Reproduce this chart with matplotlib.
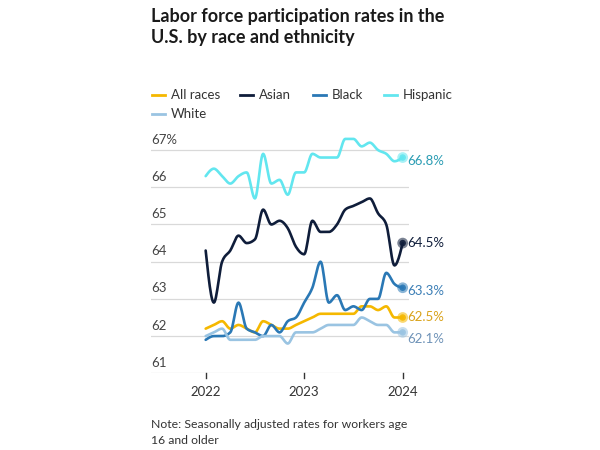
import numpy as np
import matplotlib.pyplot as plt
from matplotlib.transforms import blended_transform_factory

plt.rcParams['font.family'] = ['Lato', 'DejaVu Sans']

# monthly values, Jan 2022 .. Jan 2024
all_races = [62.2, 62.3, 62.4, 62.2, 62.3, 62.2, 62.1, 62.4, 62.3, 62.2, 62.2, 62.3,
             62.4, 62.5, 62.6, 62.6, 62.6, 62.6, 62.6, 62.8, 62.8, 62.7, 62.8, 62.5, 62.5]
asian = [64.3, 62.9, 64.0, 64.3, 64.7, 64.5, 64.6, 65.4, 65.0, 65.1, 64.9, 64.4,
         64.2, 65.1, 64.8, 64.8, 65.0, 65.4, 65.5, 65.6, 65.7, 65.3, 65.0, 63.9, 64.5]
black = [61.9, 62.0, 62.0, 62.1, 62.9, 62.2, 62.1, 62.0, 62.3, 62.1, 62.4, 62.5,
         62.9, 63.3, 64.0, 62.9, 63.1, 62.7, 62.8, 62.7, 63.0, 63.0, 63.7, 63.4, 63.3]
hispanic = [66.3, 66.5, 66.3, 66.1, 66.3, 66.4, 65.7, 66.9, 66.1, 66.2, 65.8, 66.4,
            66.4, 66.9, 66.8, 66.8, 66.8, 67.3, 67.3, 67.1, 67.2, 67.0, 66.9, 66.7, 66.8]
white = [62.0, 62.1, 62.2, 61.9, 61.9, 61.9, 61.9, 62.0, 62.0, 62.0, 61.8, 62.1,
         62.1, 62.1, 62.2, 62.3, 62.3, 62.3, 62.3, 62.5, 62.4, 62.3, 62.3, 62.1, 62.1]

series_names = ['All races', 'Asian', 'Black', 'Hispanic', 'White']
series = [all_races, asian, black, hispanic, white]
line_colors = ['#f5b800', '#0f1d3a', '#2a78b5', '#62e6ef', '#9ac4e2']
label_colors = ['#d9a21a', '#0f1d3a', '#3c7fb6', '#2a9cb3', '#6f93b8']
label_offsets = [0, 0, -0.1, -0.1, -0.18]

year_ticks = [0, 12, 24]
year_labels = ['2022', '2023', '2024']
y_ticks = [61, 62, 63, 64, 65, 66, 67]


def monotone(x, y, n=12):
    # monotone cubic (d3 curveMonotoneX style) for drawing
    x = np.asarray(x, float)
    y = np.asarray(y, float)
    h = np.diff(x)
    s = np.diff(y) / h
    m = np.zeros_like(y)
    for i in range(1, len(y) - 1):
        p = (s[i - 1] * h[i] + s[i] * h[i - 1]) / (h[i - 1] + h[i])
        m[i] = (np.sign(s[i - 1]) + np.sign(s[i])) * min(abs(s[i - 1]), abs(s[i]), 0.5 * abs(p))
    m[0] = (3 * s[0] - m[1]) / 2
    m[-1] = (3 * s[-1] - m[-2]) / 2
    xs, ys = [], []
    for i in range(len(h)):
        t = np.linspace(0, 1, n, endpoint=False)
        h00 = 2 * t**3 - 3 * t**2 + 1
        h10 = t**3 - 2 * t**2 + t
        h01 = -2 * t**3 + 3 * t**2
        h11 = t**3 - t**2
        xs.append(x[i] + t * h[i])
        ys.append(h00 * y[i] + h10 * h[i] * m[i] + h01 * y[i + 1] + h11 * h[i] * m[i + 1])
    xs.append([x[-1]])
    ys.append([y[-1]])
    return np.concatenate(xs), np.concatenate(ys)


fig = plt.figure(figsize=(6, 4.5), dpi=100)
ax = fig.add_axes([151 / 600, (450 - 373.3) / 450, 258 / 600, 238.1 / 450])
ax.set_xlim(-6.66, 24.77)
ax.set_ylim(61, 67.4)
ax.axis('off')

for v in y_ticks:
    ax.axhline(v, color='#d9d9d9', lw=0.9, zorder=0)

trans = blended_transform_factory(ax.transAxes, ax.transData)
for v in y_ticks:
    lab = '%d%%' % v if v == 67 else str(v)
    ax.text(0, v + 0.12, lab, transform=trans, ha='left', va='bottom',
            fontsize=9.5, color='#444444')

for t, lab in zip(year_ticks, year_labels):
    ax.plot([t, t], [61, 60.88], color='#333333', lw=1, clip_on=False)
    ax.text(t, 60.65, lab, ha='center', va='top', fontsize=9.5, color='#333333')

months = np.arange(len(all_races))
order = [4, 0, 2, 3, 1]
for i in order:
    xs, ys = monotone(months, series[i])
    ax.plot(xs, ys, color=line_colors[i], lw=1.9, solid_capstyle='round', zorder=3 + i)
    ax.scatter([months[-1]], [series[i][-1]], s=60, color=line_colors[i], alpha=0.55,
               zorder=10, edgecolors='none')
    ax.scatter([months[-1]], [series[i][-1]], s=22, color=line_colors[i], alpha=0.9,
               zorder=11, edgecolors='none')
    ax.text(months[-1] + 0.5, series[i][-1] + label_offsets[i], '%.1f%%' % series[i][-1],
            ha='left', va='center', fontsize=9.5, color=label_colors[i], clip_on=False)

fig.text(151 / 600, 1 - 22 / 450, 'Labor force participation rates in the',
         fontsize=13, fontweight='bold', color='#1a1a1a', ha='left', va='baseline')
fig.text(151 / 600, 1 - 43 / 450, 'U.S. by race and ethnicity',
         fontsize=13, fontweight='bold', color='#1a1a1a', ha='left', va='baseline')

# legend
legend_pos = [(152, 95), (240, 95), (313, 95), (384, 95), (152, 114)]
for (lx, ly), name, c in zip(legend_pos, series_names, line_colors):
    fig.add_artist(plt.Line2D([lx / 600, (lx + 13) / 600], [1 - ly / 450, 1 - ly / 450],
                              color=c, lw=2))
    fig.text((lx + 19) / 600, 1 - ly / 450, name, fontsize=9.5, color='#333333',
             ha='left', va='center')

fig.text(151 / 600, 1 - 425 / 450, 'Note: Seasonally adjusted rates for workers age',
         fontsize=8.8, color='#333333', ha='left', va='center')
fig.text(151 / 600, 1 - 441 / 450, '16 and older',
         fontsize=8.8, color='#333333', ha='left', va='center')

fig.savefig('out.png', dpi=100)
